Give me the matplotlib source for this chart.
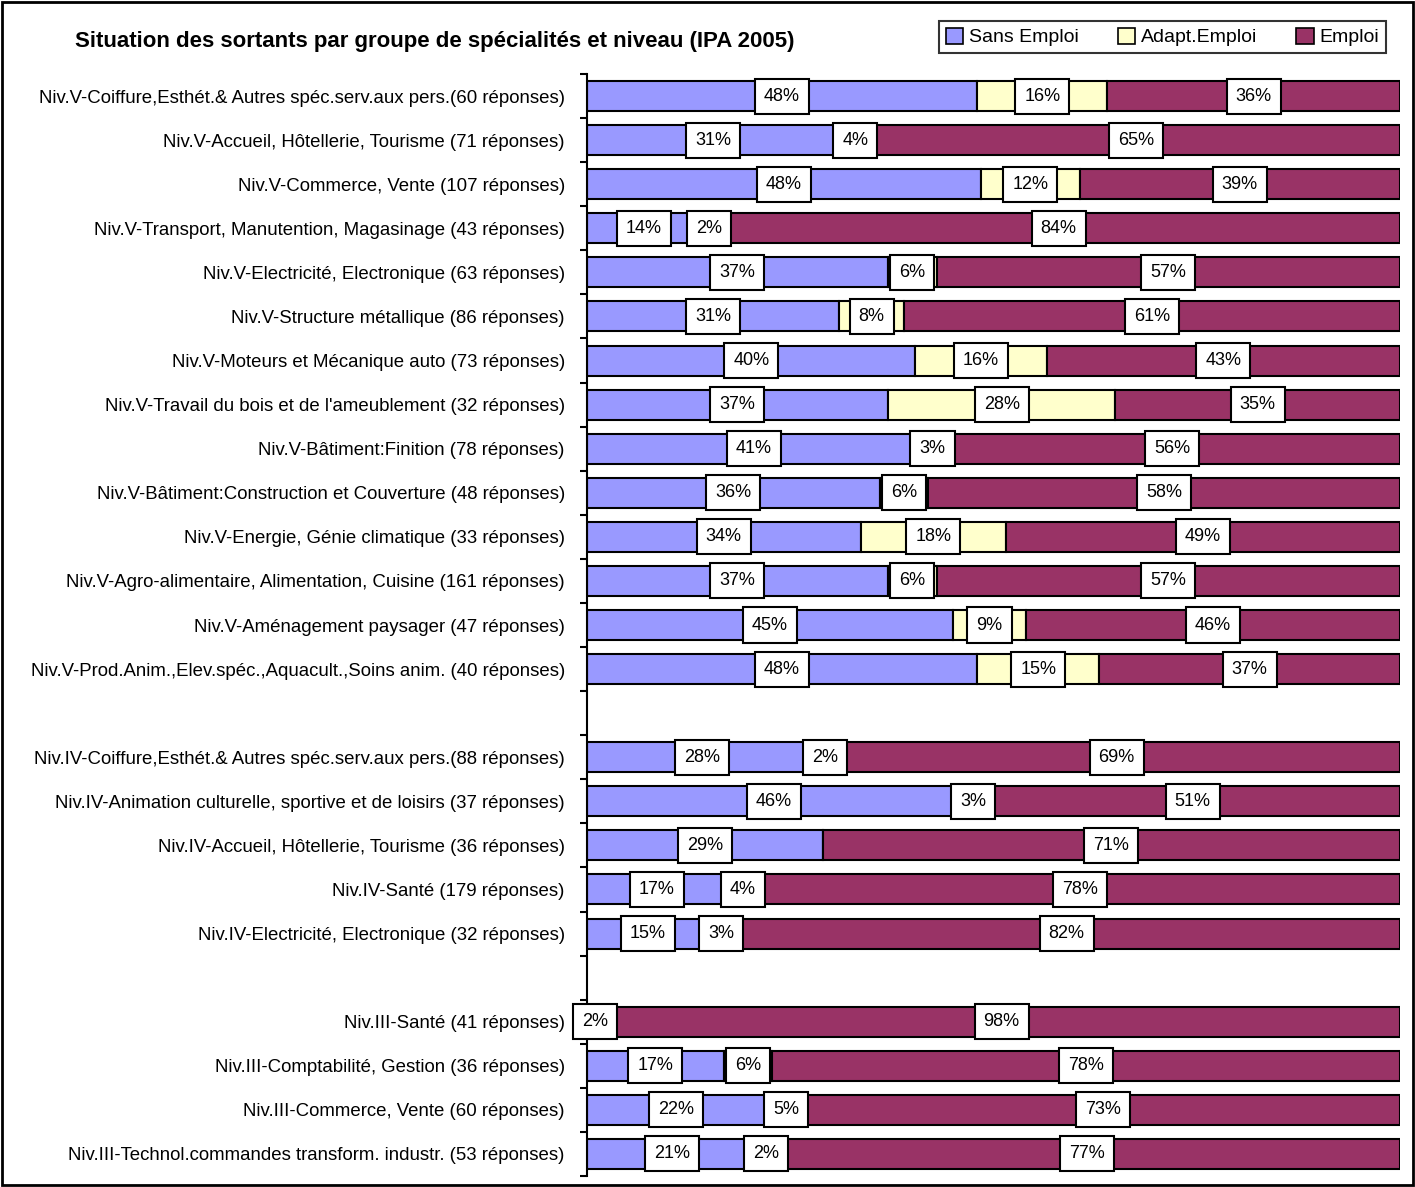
import matplotlib
matplotlib.use('Agg')
import matplotlib.pyplot as plt
from matplotlib import font_manager
from matplotlib.patches import Patch, Rectangle
from matplotlib.ticker import FixedLocator
import numpy as np

# police étroite si disponible (proche d'Arial Narrow)
noms = {f.name for f in font_manager.fontManager.ttflist}
etroite = 'Liberation Sans Narrow' in noms
police = 'Liberation Sans Narrow' if etroite else 'Liberation Sans'
plt.rcParams['font.family'] = [police, 'DejaVu Sans']
taille_cat = 15.5 if etroite else 13.4

# Données
categories_v = [
    "Niv.V-Coiffure,Esthét.& Autres spéc.serv.aux pers.(60 réponses)",
    "Niv.V-Accueil, Hôtellerie, Tourisme (71 réponses)",
    "Niv.V-Commerce, Vente (107 réponses)",
    "Niv.V-Transport, Manutention, Magasinage (43 réponses)",
    "Niv.V-Electricité, Electronique (63 réponses)",
    "Niv.V-Structure métallique (86 réponses)",
    "Niv.V-Moteurs et Mécanique auto (73 réponses)",
    "Niv.V-Travail du bois et de l'ameublement (32 réponses)",
    "Niv.V-Bâtiment:Finition (78 réponses)",
    "Niv.V-Bâtiment:Construction et Couverture (48 réponses)",
    "Niv.V-Energie, Génie climatique (33 réponses)",
    "Niv.V-Agro-alimentaire, Alimentation, Cuisine (161 réponses)",
    "Niv.V-Aménagement paysager (47 réponses)",
    "Niv.V-Prod.Anim.,Elev.spéc.,Aquacult.,Soins anim. (40 réponses)",
]
categories_iv = [
    "Niv.IV-Coiffure,Esthét.& Autres spéc.serv.aux pers.(88 réponses)",
    "Niv.IV-Animation culturelle, sportive et de loisirs (37 réponses)",
    "Niv.IV-Accueil, Hôtellerie, Tourisme (36 réponses)",
    "Niv.IV-Santé (179 réponses)",
    "Niv.IV-Electricité, Electronique (32 réponses)",
]
categories_iii = [
    "Niv.III-Santé (41 réponses)",
    "Niv.III-Comptabilité, Gestion (36 réponses)",
    "Niv.III-Commerce, Vente (60 réponses)",
    "Niv.III-Technol.commandes transform. industr. (53 réponses)",
]

sans_emploi = [48, 31, 48, 14, 37, 31, 40, 37, 41, 36, 34, 37, 45, 48,
               28, 46, 29, 17, 15,
               2, 17, 22, 21]
adapt_emploi = [16, 4, 12, 2, 6, 8, 16, 28, 3, 6, 18, 6, 9, 15,
                2, 3, 0, 4, 3,
                0, 6, 5, 2]
emploi = [36, 65, 39, 84, 57, 61, 43, 35, 56, 58, 49, 57, 46, 37,
          69, 51, 71, 78, 82,
          98, 78, 73, 77]

series = ['Sans Emploi', 'Adapt.Emploi', 'Emploi']
couleurs = ['#9999FF', '#FFFFCC', '#993366']

# positions : une ligne vide entre les niveaux
labels = categories_v + [''] + categories_iv + [''] + categories_iii
n = len(labels)
idx = [i for i, l in enumerate(labels) if l]

vals = np.array([sans_emploi, adapt_emploi, emploi], dtype=float)
fractions = vals / vals.sum(axis=0)

fig = plt.figure(figsize=(14.15, 11.87), dpi=100)
ax = fig.add_axes([587 / 1415, 11 / 1187, 813 / 1415, 1102 / 1187])

y = np.array(idx)
gauche = np.zeros(len(idx))
for k in range(3):
    ax.barh(y, fractions[k], left=gauche, height=0.68, color=couleurs[k],
            edgecolor='black', linewidth=1.5, label=series[k])
    for yi, g, f, v in zip(y, gauche, fractions[k], vals[k]):
        if v > 0:
            ax.text(g + f / 2, yi, f"{int(v)}%", ha='center', va='center',
                    fontsize=13,
                    bbox=dict(boxstyle='square,pad=0.5', facecolor='white',
                              edgecolor='black', linewidth=1.5))
    gauche = gauche + fractions[k]

ax.set_xlim(0, 1)
ax.set_ylim(n - 0.5, -0.5)
ax.set_yticks(range(n))
ax.set_yticklabels(labels, fontsize=taille_cat)
ax.tick_params(axis='y', which='major', length=0, pad=16)
ax.yaxis.set_minor_locator(FixedLocator(np.arange(-0.5, n, 1)))
ax.tick_params(axis='y', which='minor', length=5, width=1.5)
ax.set_xticks([])
for s in ['top', 'right', 'bottom']:
    ax.spines[s].set_visible(False)
ax.spines['left'].set_linewidth(1.5)

fig.text(75 / 1415, 1 - 42 / 1187,
         "Situation des sortants par groupe de spécialités et niveau (IPA 2005)",
         ha='left', va='center', fontsize=16, fontweight='bold')

poignees = [Patch(facecolor=c, edgecolor='black', linewidth=1.2) for c in couleurs]
leg = fig.legend(poignees, series, loc='center', ncol=3,
                 bbox_to_anchor=((940 + 1385) / 2 / 1415, 1 - 37 / 1187),
                 fontsize=14, frameon=True, fancybox=False, edgecolor='black',
                 handlelength=0.9, handleheight=0.9, handletextpad=0.3,
                 columnspacing=2.0, borderpad=0.35)
leg.get_frame().set_linewidth(1.5)

fig.patches.append(Rectangle((0.0015, 0.0015), 0.997, 0.997, transform=fig.transFigure,
                             fill=False, edgecolor='black', linewidth=2))

fig.savefig('out.png', dpi=100)
